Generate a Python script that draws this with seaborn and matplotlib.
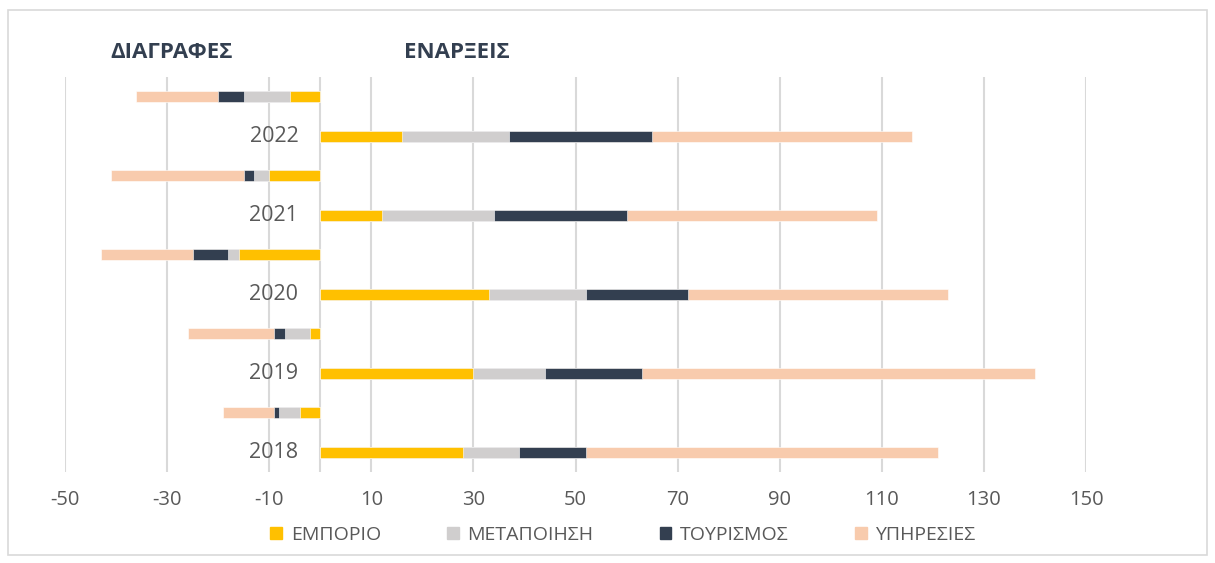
import matplotlib

matplotlib.use("Agg")
import matplotlib.pyplot as plt
import matplotlib.patches as mpatches
import numpy as np
import pandas as pd
import seaborn as sns

# data
years = ["2018", "2019", "2020", "2021", "2022"]
sectors = ["ΕΜΠΟΡΙΟ", "ΜΕΤΑΠΟΙΗΣΗ", "ΤΟΥΡΙΣΜΟΣ", "ΥΠΗΡΕΣΙΕΣ"]
colors = ["#FFC000", "#D0CECE", "#333F50", "#F8CBAD"]

starts_commerce = [28, 30, 33, 12, 16]
starts_manuf = [11, 14, 19, 22, 21]
starts_tourism = [13, 19, 20, 26, 28]
starts_services = [69, 77, 51, 49, 51]

del_commerce = [4, 2, 16, 10, 6]
del_manuf = [4, 5, 2, 3, 9]
del_tourism = [1, 2, 7, 2, 5]
del_services = [10, 17, 18, 26, 16]

xticks = [-50, -30, -10, 10, 30, 50, 70, 90, 110, 130, 150]

# rows from top to bottom: deletions row above each year's starts row
rows = []
vals = {s: [] for s in sectors}
starts = [starts_commerce, starts_manuf, starts_tourism, starts_services]
dels = [del_commerce, del_manuf, del_tourism, del_services]
for i in range(len(years) - 1, -1, -1):
    rows.append(years[i] + "_d")
    for s, d in zip(sectors, dels):
        vals[s].append(-d[i])
    rows.append(years[i])
    for s, d in zip(sectors, starts):
        vals[s].append(d[i])

df = pd.DataFrame(vals, index=rows)
cum = df.cumsum(axis=1)
cum["row"] = rows

sns.set_theme(style="white")
plt.rcParams["font.family"] = ["Open Sans", "DejaVu Sans"]

fig = plt.figure(figsize=(12.15, 5.63), dpi=100)
ax = fig.add_axes([65 / 1215, 1 - 472 / 563, (1086 - 65) / 1215, (472 - 77) / 563])

for x in xticks + [0]:
    ax.axvline(x, color="#D9D9D9", lw=1.5, zorder=0)

# stacked bars drawn as overlaid cumulative sums, widest first
for s, c in zip(reversed(sectors), reversed(colors)):
    sns.barplot(data=cum, x=s, y="row", order=rows, orient="h", color=c,
                width=0.28, saturation=1, edgecolor="white", linewidth=0.4, ax=ax, zorder=2)

ax.set_xlim(-50, 150)
ax.set_ylim(len(rows) - 0.5, -0.5)
ax.set_xticks(xticks)
ax.set_xticklabels([str(t) for t in xticks])
ax.set_yticks([])
ax.set_xlabel("")
ax.set_ylabel("")
ax.tick_params(axis="x", length=0, pad=13, labelsize=14.5, labelcolor="#595959")
for sp in ax.spines.values():
    sp.set_visible(False)

for i, r in enumerate(rows):
    if not r.endswith("_d"):
        ax.text(-4.3, i, r, ha="right", va="center", fontsize=15.5, color="#595959")

fig.text(110 / 1215, 1 - 52 / 563, "ΔΙΑΓΡΑΦΕΣ", ha="left", va="center",
         fontsize=16, fontweight="bold", color="#333F50")
fig.text(404 / 1215, 1 - 52 / 563, "ΕΝΑΡΞΕΙΣ", ha="left", va="center",
         fontsize=16, fontweight="bold", color="#333F50")

handles = [mpatches.Patch(color=c, label=s) for s, c in zip(sectors, colors)]
fig.legend(handles=handles, loc="center", bbox_to_anchor=(623 / 1215, 1 - 535 / 563),
           ncol=4, frameon=False, fontsize=14, handlelength=0.6, handleheight=0.6,
           handletextpad=0.45, columnspacing=3.4, labelcolor="#595959")

fig.patches.append(mpatches.Rectangle((8 / 1215, 8 / 563), 1199 / 1215, 545 / 563,
                                      transform=fig.transFigure, fill=False,
                                      edgecolor="#D9D9D9", lw=1.2))

fig.savefig("out.png", dpi=100)
plt.close(fig)
